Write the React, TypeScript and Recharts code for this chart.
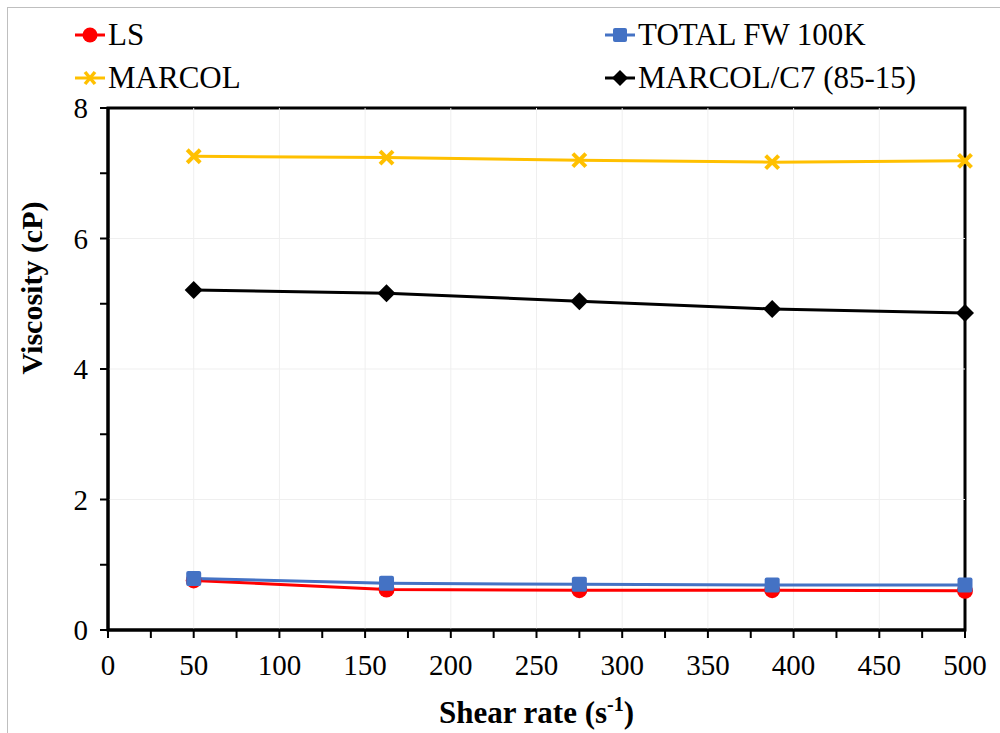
import React from 'react';
import {
  LineChart,
  Line,
  XAxis,
  YAxis,
  ReferenceLine,
  ReferenceArea,
} from 'recharts';

const shearRates = [50, 162.5, 275, 387.5, 500];
const lsValues = [0.76, 0.62, 0.61, 0.61, 0.6];
const totalValues = [0.79, 0.715, 0.7, 0.69, 0.69];
const marcolValues = [7.26, 7.24, 7.2, 7.17, 7.19];
const marcolC7Values = [5.21, 5.16, 5.04, 4.92, 4.86];

const xTicks = [0, 25, 50, 75, 100, 125, 150, 175, 200, 225, 250, 275, 300, 325, 350, 375, 400, 425, 450, 475, 500];
const xLabels = [0, 50, 100, 150, 200, 250, 300, 350, 400, 450, 500];
const yTicks = [0, 1, 2, 3, 4, 5, 6, 7, 8];
const yLabels = [0, 2, 4, 6, 8];
const xGrid = [50, 100, 150, 200, 250, 300, 350, 400, 450];
const yGrid = [2, 4, 6];

const data = shearRates.map((x, i) => ({
  x,
  ls: lsValues[i],
  total: totalValues[i],
  marcol: marcolValues[i],
  marcolC7: marcolC7Values[i],
}));

const FONT = "'Liberation Serif', 'Times New Roman', 'DejaVu Serif', serif";

const COLORS = {
  ls: '#FF0000',
  total: '#4472C4',
  marcol: '#FFC000',
  marcolC7: '#000000',
};

// marker shapes
const CircleDot = (props: any) => {
  const { cx, cy, fill } = props;
  if (cx == null || cy == null) return null;
  return <circle cx={cx} cy={cy} r={8} fill={fill} />;
};

const SquareDot = (props: any) => {
  const { cx, cy, fill } = props;
  if (cx == null || cy == null) return null;
  return <rect x={cx - 7.5} y={cy - 7.5} width={15} height={15} rx={2} fill={fill} />;
};

const CrossDot = (props: any) => {
  const { cx, cy, stroke } = props;
  if (cx == null || cy == null) return null;
  const s = 6.5;
  return (
    <g stroke={stroke} strokeWidth={4}>
      <line x1={cx - s} y1={cy - s} x2={cx + s} y2={cy + s} />
      <line x1={cx - s} y1={cy + s} x2={cx + s} y2={cy - s} />
    </g>
  );
};

const DiamondDot = (props: any) => {
  const { cx, cy, fill } = props;
  if (cx == null || cy == null) return null;
  const s = 9;
  return <path d={`M${cx},${cy - s} L${cx + s},${cy} L${cx},${cy + s} L${cx - s},${cy} Z`} fill={fill} />;
};

const XTick = (props: any) => {
  const { x, y, payload } = props;
  if (!xLabels.includes(payload.value)) return null;
  return (
    <text x={x} y={y + 37} textAnchor="middle" style={{ fontFamily: FONT }} fontSize={29} fill="#000">
      {payload.value}
    </text>
  );
};

const YTick = (props: any) => {
  const { x, y, payload } = props;
  if (!yLabels.includes(payload.value)) return null;
  return (
    <text x={x} y={y + 10} textAnchor="end" style={{ fontFamily: FONT }} fontSize={29} fill="#000">
      {payload.value}
    </text>
  );
};

const legendItems = [
  { name: 'LS', color: COLORS.ls, shape: 'circle', left: 75, top: 35 },
  { name: 'TOTAL FW 100K', color: COLORS.total, shape: 'square', left: 605, top: 35 },
  { name: 'MARCOL', color: COLORS.marcol, shape: 'cross', left: 75, top: 78 },
  { name: 'MARCOL/C7 (85-15)', color: COLORS.marcolC7, shape: 'diamond', left: 605, top: 78 },
];

const LegendIcon = ({ shape, color }: { shape: string; color: string }) => (
  <svg width={30} height={20} style={{ display: 'block' }}>
    <line x1={0} y1={10} x2={30} y2={10} stroke={color} strokeWidth={3} />
    {shape === 'circle' && <circle cx={15} cy={10} r={7.5} fill={color} />}
    {shape === 'square' && <rect x={8} y={3} width={14} height={14} rx={2} fill={color} />}
    {shape === 'cross' && (
      <g stroke={color} strokeWidth={3.5}>
        <line x1={10} y1={4} x2={20} y2={16} />
        <line x1={10} y1={16} x2={20} y2={4} />
      </g>
    )}
    {shape === 'diamond' && <path d="M15,2 L23,10 L15,18 L7,10 Z" fill={color} />}
  </svg>
);

const ChartLegend = () => (
  <div style={{ position: 'absolute', left: 0, top: 0, width: 1000, height: 100 }}>
    {legendItems.map((item) => (
      <div
        key={item.name}
        style={{
          position: 'absolute',
          left: item.left,
          top: item.top - 16,
          height: 32,
          display: 'flex',
          alignItems: 'center',
          fontFamily: FONT,
          fontSize: 31,
          color: '#000',
          whiteSpace: 'nowrap',
        }}
      >
        <LegendIcon shape={item.shape} color={item.color} />
        <span style={{ marginLeft: 3 }}>{item.name}</span>
      </div>
    ))}
  </div>
);

const YLabel = (props: any) => {
  const { viewBox } = props;
  const cx = 31;
  const cy = viewBox.y + viewBox.height / 2 - 81;
  return (
    <text
      x={cx}
      y={cy}
      transform={`rotate(-90, ${cx}, ${cy})`}
      textAnchor="middle"
      dominantBaseline="central"
      style={{ fontFamily: FONT }}
      fontSize={30}
      fontWeight="bold"
      fill="#000"
    >
      Viscosity (cP)
    </text>
  );
};

const XLabel = (props: any) => {
  const { viewBox } = props;
  const cx = viewBox.x + viewBox.width / 2;
  return (
    <text x={cx} y={723} textAnchor="middle" style={{ fontFamily: FONT }} fontSize={31} fontWeight="bold" fill="#000">
      Shear rate (s
      <tspan fontSize={20} dy={-12}>-1</tspan>
      <tspan dy={12}>)</tspan>
    </text>
  );
};

export default function App() {
  return (
    <div style={{ position: 'absolute', left: 0, top: 0, width: 1000, height: 733, background: '#fff', overflow: 'hidden' }}>
      <div
        style={{
          position: 'absolute',
          left: 7,
          top: 7,
          width: 1000,
          height: 800,
          borderLeft: '1.5px solid #bfbfbf',
          borderTop: '1.5px solid #bfbfbf',
        }}
      />
      <ChartLegend />
      <div style={{ position: 'absolute', left: 0, top: 0 }}>
        <LineChart width={1000} height={733} data={data} margin={{ top: 108, right: 35, bottom: 43, left: 0 }}>
          {xGrid.map((v) => (
            <ReferenceLine key={`gx${v}`} x={v} stroke="#efefef" strokeWidth={1} />
          ))}
          {yGrid.map((v) => (
            <ReferenceLine key={`gy${v}`} y={v} stroke="#efefef" strokeWidth={1} />
          ))}
          <XAxis
            dataKey="x"
            type="number"
            domain={[0, 500]}
            ticks={xTicks}
            interval={0}
            height={60}
            tickSize={8}
            tickMargin={0}
            tick={<XTick />}
            tickLine={{ stroke: '#000', strokeWidth: 2 }}
            axisLine={{ stroke: '#000', strokeWidth: 3 }}
            label={<XLabel />}
          />
          <YAxis
            type="number"
            domain={[0, 8]}
            ticks={yTicks}
            interval={0}
            width={108}
            tickSize={8}
            tickMargin={12}
            tick={<YTick />}
            tickLine={{ stroke: '#000', strokeWidth: 2 }}
            axisLine={{ stroke: '#000', strokeWidth: 3 }}
            label={<YLabel />}
          />
          <ReferenceArea x1={0} x2={500} y1={0} y2={8} fill="none" stroke="#000" strokeWidth={3} />
          <Line
            dataKey="ls"
            name="LS"
            stroke={COLORS.ls}
            strokeWidth={3}
            fill={COLORS.ls}
            dot={<CircleDot />}
            isAnimationActive={false}
          />
          <Line
            dataKey="total"
            name="TOTAL FW 100K"
            stroke={COLORS.total}
            strokeWidth={3}
            fill={COLORS.total}
            dot={<SquareDot />}
            isAnimationActive={false}
          />
          <Line
            dataKey="marcol"
            name="MARCOL"
            stroke={COLORS.marcol}
            strokeWidth={3}
            fill={COLORS.marcol}
            dot={<CrossDot />}
            isAnimationActive={false}
          />
          <Line
            dataKey="marcolC7"
            name="MARCOL/C7 (85-15)"
            stroke={COLORS.marcolC7}
            strokeWidth={3}
            fill={COLORS.marcolC7}
            dot={<DiamondDot />}
            isAnimationActive={false}
          />
        </LineChart>
      </div>
    </div>
  );
}
